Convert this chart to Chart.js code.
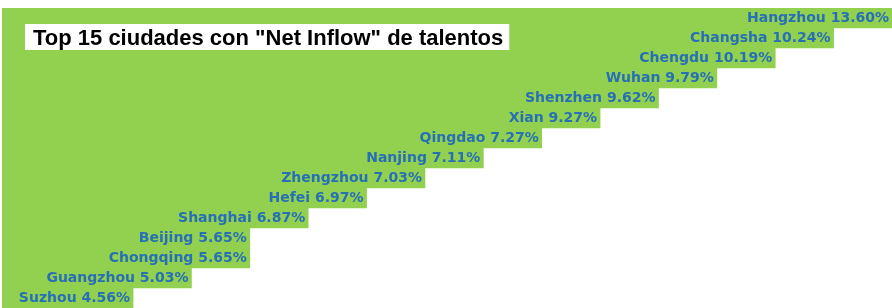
<!DOCTYPE html>
<html>
<head>
<meta charset="utf-8">
<script src="https://cdn.jsdelivr.net/npm/chart.js@4"></script>
<style>
  html, body { margin: 0; padding: 0; background: #ffffff; overflow: hidden; }
  #wrap { width: 892px; height: 308px; position: relative; }
  canvas { display: block; }
</style>
</head>
<body>
<div id="wrap"><canvas id="c" width="892" height="308"></canvas></div>
<script>
const chartTitle = 'Top 15 ciudades con "Net Inflow" de talentos';
const cities = ['Hangzhou','Changsha','Chengdu','Wuhan','Shenzhen','Xian','Qingdao','Nanjing','Zhengzhou','Hefei','Shanghai','Beijing','Chongqing','Guangzhou','Suzhou'];
const netInflow = [13.60, 10.24, 10.19, 9.79, 9.62, 9.27, 7.27, 7.11, 7.03, 6.97, 6.87, 5.65, 5.65, 5.03, 4.56];
// staircase step (bar length): one step per rank, ties share a step
const stepLevel = [14, 13, 12, 11, 10, 9, 8, 7, 6, 5, 4, 3, 3, 2, 1];

const X_MIN = -1.245;
const X_MAX = 14.0;

const labelPlugin = {
  id: 'barLabels',
  afterDraw(chart) {
    const ctx = chart.ctx;
    const xs = chart.scales.x, ys = chart.scales.y;
    ctx.save();
    ctx.font = 'bold 14px "DejaVu Sans", Verdana, sans-serif';
    ctx.fillStyle = '#2870b6';
    ctx.textAlign = 'right';
    ctx.textBaseline = 'middle';
    for (let i = 0; i < cities.length; i++) {
      const txt = cities[i] + ' ' + netInflow[i].toFixed(2) + '%';
      const x = xs.getPixelForValue(stepLevel[i]);
      const y = ys.getPixelForValue(i);
      ctx.fillText(txt, x - 3, y);
    }
    ctx.font = 'bold 22px "Liberation Sans", Arial, sans-serif';
    const w = ctx.measureText(chartTitle).width;
    ctx.fillStyle = '#ffffff';
    ctx.fillRect(25, 24, w + 14, 26);
    ctx.fillStyle = '#000000';
    ctx.textAlign = 'left';
    ctx.textBaseline = 'alphabetic';
    ctx.fillText(chartTitle, 33, 45);
    ctx.restore();
  }
};

new Chart(document.getElementById('c'), {
  type: 'bar',
  data: {
    labels: cities,
    datasets: [{
      data: stepLevel.map(v => [X_MIN, v]),
      backgroundColor: '#92d050',
      borderWidth: 0,
      categoryPercentage: 1.0,
      barPercentage: 1.0
    }]
  },
  options: {
    indexAxis: 'y',
    responsive: false,
    animation: false,
    layout: { padding: { left: 2, top: 8, right: 0, bottom: 0 } },
    plugins: { legend: { display: false }, tooltip: { enabled: false }, title: { display: false } },
    scales: {
      x: { display: false, min: X_MIN, max: X_MAX },
      y: { display: false }
    }
  },
  plugins: [labelPlugin]
});
</script>
</body>
</html>
